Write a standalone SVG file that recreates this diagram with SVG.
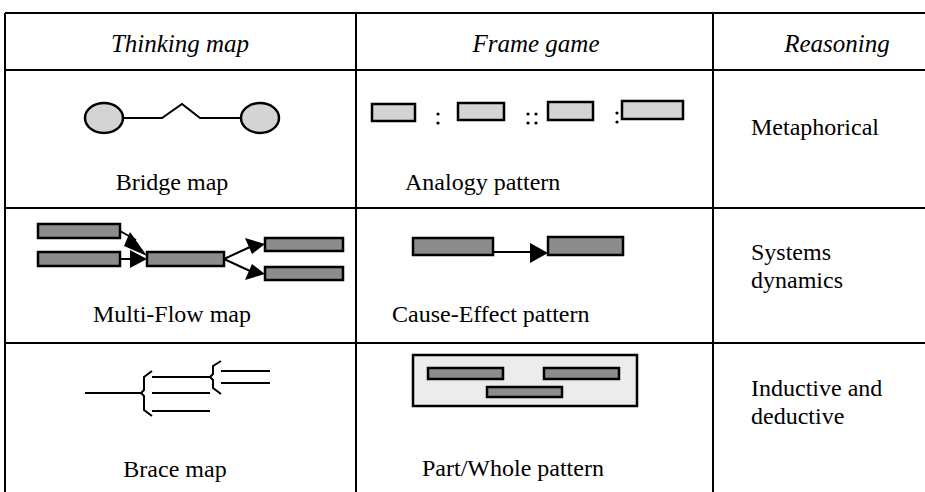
<svg xmlns="http://www.w3.org/2000/svg" width="925" height="492" viewBox="0 0 925 492">
<style>
.grid{stroke:#000;stroke-width:2;fill:none}
.hd{font-style:italic;font-size:25px;fill:#000}
.tx{font-size:24px;fill:#000}
.ln{stroke:#000;stroke-width:2;fill:none}
.lt{fill:#d4d4d4;stroke:#000;stroke-width:2.5}
.dk{fill:#8c8c8c;stroke:#000;stroke-width:2.5}
.pw{fill:#ececec;stroke:#000;stroke-width:2.5}
.ah{fill:#000;stroke:none}
.dot{fill:#000}
</style>
<rect width="925" height="492" fill="#fff"/>
<g id="table" class="grid">
<line x1="5" y1="13" x2="925" y2="13"/>
<line x1="5" y1="70" x2="925" y2="70"/>
<line x1="5" y1="208" x2="925" y2="208"/>
<line x1="5" y1="343" x2="925" y2="343"/>
<line x1="5" y1="13" x2="5" y2="492"/>
<line x1="356" y1="13" x2="356" y2="492"/>
<line x1="713" y1="13" x2="713" y2="492"/>
</g>
<g font-family="Liberation Serif, DejaVu Serif, serif">
<g id="headers">
<text class="hd" x="180" y="52" text-anchor="middle">Thinking map</text>
<text class="hd" x="536" y="52" text-anchor="middle">Frame game</text>
<text class="hd" x="837" y="52" text-anchor="middle">Reasoning</text>
</g>
<g id="bridge-map">
<ellipse class="lt" cx="104" cy="118" rx="19" ry="15"/>
<ellipse class="lt" cx="260" cy="118" rx="19" ry="15"/>
<text class="tx" x="172" y="190" text-anchor="middle">Bridge map</text>
</g>
<g id="analogy-pattern">
<rect class="lt" x="372" y="104" width="43" height="17"/>
<rect class="lt" x="458" y="103" width="46" height="17"/>
<rect class="lt" x="548" y="102" width="45" height="18"/>
<rect class="lt" x="622" y="101" width="61" height="18"/>
<circle class="dot" cx="438" cy="114" r="1.6"/><circle class="dot" cx="438" cy="123" r="1.6"/>
<circle class="dot" cx="528" cy="114" r="1.6"/><circle class="dot" cx="528" cy="123" r="1.6"/>
<circle class="dot" cx="536" cy="114" r="1.6"/><circle class="dot" cx="536" cy="123" r="1.6"/>
<circle class="dot" cx="617" cy="113" r="1.6"/><circle class="dot" cx="617" cy="122" r="1.6"/>
<text class="tx" x="405" y="190">Analogy pattern</text>
</g>
<g id="metaphorical"><text class="tx" x="751" y="135">Metaphorical</text></g>
<g id="multi-flow-map">
<rect class="dk" x="38" y="224" width="82" height="14"/>
<rect class="dk" x="38" y="252" width="82" height="14"/>
<rect class="dk" x="147" y="252" width="77" height="14"/>
<rect class="dk" x="265" y="238" width="78" height="13"/>
<rect class="dk" x="265" y="267" width="78" height="13"/>
<text class="tx" x="172" y="322" text-anchor="middle">Multi-Flow map</text>
</g>
<g id="cause-effect-pattern">
<rect class="dk" x="413" y="238" width="80" height="17"/>
<rect class="dk" x="548" y="237" width="75" height="18"/>
<text class="tx" x="392" y="322">Cause-Effect pattern</text>
</g>
<g id="systems-dynamics"><text class="tx" x="751" y="260">Systems</text><text class="tx" x="751" y="288">dynamics</text></g>
<g id="brace-map">
<path class="ln" d="M152 371 L144 377 L144 390 L141 393 L144 396 L144 410 L152 416"/>
<path class="ln" d="M221 361 L213 366 L213 374 L210 377 L213 380 L213 388 L221 394"/>
<text class="tx" x="175" y="477" text-anchor="middle">Brace map</text>
</g>
<g id="part-whole-pattern">
<rect class="pw" x="413" y="355" width="224" height="51"/>
<rect class="dk" x="428" y="368" width="75" height="11"/>
<rect class="dk" x="544" y="368" width="75" height="11"/>
<rect class="dk" x="487" y="387" width="75" height="10"/>
<text class="tx" x="422" y="476">Part/Whole pattern</text>
</g>
<g id="inductive-deductive"><text class="tx" x="751" y="396">Inductive and</text><text class="tx" x="751" y="424">deductive</text></g>
</g>
<g id="connectors">
<path class="ln" d="M123 118 L162 118 L182 104 L200 118 L241 118"/>
<line class="ln" x1="120" y1="231" x2="136" y2="240"/>
<polygon class="ah" points="130,232 147,256 124,246"/>
<line class="ln" x1="120" y1="259" x2="132" y2="259"/>
<polygon class="ah" points="130,250 147,259 130,268"/>
<line class="ln" x1="224" y1="259" x2="250" y2="247"/>
<polygon class="ah" points="245,238 265,244 252,254"/>
<line class="ln" x1="224" y1="259" x2="250" y2="271"/>
<polygon class="ah" points="252,264 265,274 245,280"/>
<line class="ln" x1="493" y1="252" x2="532" y2="252"/>
<polygon class="ah" points="530,243 548,253 530,263"/>
<line class="ln" x1="85" y1="393" x2="141" y2="393"/>
<line class="ln" x1="152" y1="377" x2="210" y2="377"/>
<line class="ln" x1="152" y1="393" x2="210" y2="393"/>
<line class="ln" x1="152" y1="411" x2="210" y2="411"/>
<line class="ln" x1="221" y1="371" x2="270" y2="371"/>
<line class="ln" x1="221" y1="383" x2="270" y2="383"/>
</g>
</svg>
